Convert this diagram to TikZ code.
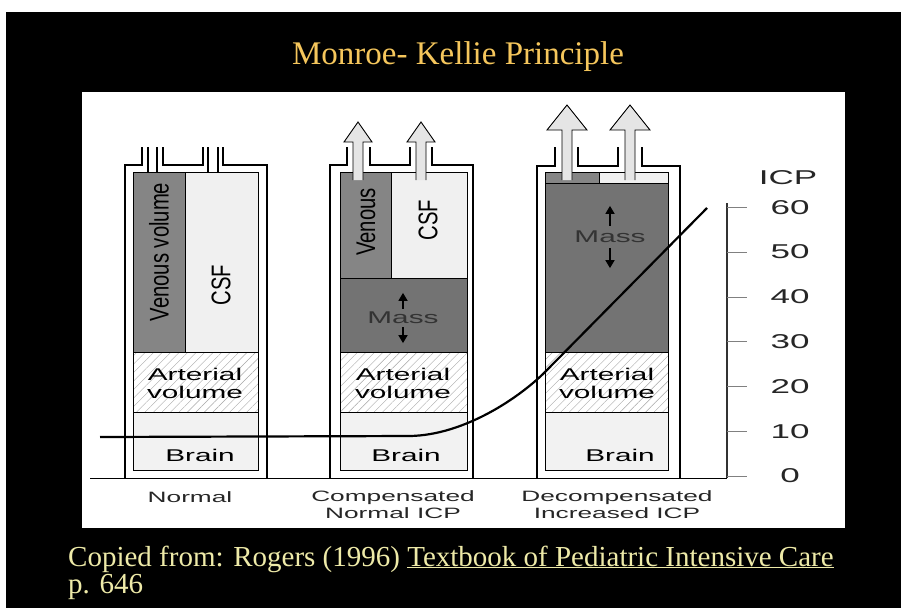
\documentclass[tikz,border=0pt]{standalone}
\usepackage{fontspec}
\setmainfont{Liberation Serif}
\newfontfamily\widesans[FakeStretch=1.75]{Liberation Sans}
\newfontfamily\narrowsans[FakeStretch=0.75]{Liberation Sans}
\usetikzlibrary{arrows.meta,patterns.meta}
\definecolor{titlegold}{HTML}{F5C65C}
\definecolor{citeyellow}{HTML}{EEEAA8}
\tikzset{
    wall/.style = {
        draw,
        line width=1.3pt
    },
    venous/.style = {
        draw,
        fill=black!48,
        line width=0.7pt
    },
    csf/.style = {
        draw,
        fill=gray!12,
        line width=0.7pt
    },
    mass/.style = {
        draw,
        fill=black!55,
        line width=0.7pt
    },
    arterial/.style = {
        draw,
        pattern={Lines[angle=45,distance=6pt,line width=0.4pt]},
        pattern color=gray!70,
        line width=0.7pt
    },
    brain/.style = {
        draw,
        fill=gray!10,
        line width=0.7pt
    },
    vent/.style = {
        draw,
        fill=gray!20,
        line width=0.9pt,
        line join=miter
    },
    lbl/.style = {
        font=\widesans\fontsize{17}{18}\selectfont,
        align=center,
        inner sep=0pt
    },
    vlbl/.style = {
        font=\narrowsans\fontsize{27}{28}\selectfont,
        rotate=90,
        inner sep=0pt
    },
    under/.style = {
        font=\widesans\fontsize{15}{17}\selectfont,
        align=center,
        text=black!85,
        inner sep=0pt
    },
    icpnum/.style = {
        font=\widesans\fontsize{20}{22}\selectfont,
        text=black!85,
        inner sep=0pt
    },
    heading/.style = {
        font=\fontsize{33}{36}\selectfont,
        text=titlegold
    },
    cite/.style = {
        font=\fontsize{29}{30}\selectfont,
        text=citeyellow,
        inner sep=0pt
    },
    >={Triangle[width=9pt,length=8pt]},
}

\begin{document}
\begin{tikzpicture}[x=1pt, y=-1pt]
    \useasboundingbox (0,0) rectangle (901,608);
    \path[fill=black] (6,12) rectangle (901,608);
    \path[fill=white] (82,92) rectangle (845,528);

    \node[heading] (ttl) at (458,57) {Monroe- Kellie Principle};

    % normal
    \path[venous] (133,172) rectangle (185,352);
    \path[csf] (185,172) rectangle (258,352);
    \path[arterial] (133,352) rectangle (258,412);
    \path[brain] (133,412) rectangle (258,470);
    \path[wall] (142,147) |- (125,165) -- (125,478);
    \path[wall] (163,147) |- (203,165) -- (203,147);
    \path[wall] (223,147) |- (267,165) -- (267,478);
    \path[wall] (148,147) -- (148,172);
    \path[wall] (157,147) -- (157,172);
    \path[wall] (208,147) -- (208,172);
    \path[wall] (218,147) -- (218,172);

    % compensated
    \path[venous] (340,172) rectangle (391,278);
    \path[csf] (391,172) rectangle (467,278);
    \path[mass] (340,278) rectangle (467,352);
    \path[arterial] (340,352) rectangle (467,412);
    \path[brain] (340,412) rectangle (467,470);
    \path[wall] (347,147) |- (330,165) -- (330,478);
    \path[wall] (370,147) |- (410,165) -- (410,147);
    \path[wall] (432,147) |- (473,165) -- (473,478);

    % decompensated
    \path[venous] (545,172) rectangle (599,183);
    \path[csf] (599,172) rectangle (668,183);
    \path[mass] (545,183) rectangle (668,352);
    \path[arterial] (545,352) rectangle (668,412);
    \path[brain] (545,412) rectangle (668,470);
    \path[wall] (555,147) |- (537,166) -- (537,478);
    \path[wall] (578,147) |- (618,166) -- (618,147);
    \path[wall] (642,147) |- (680,166) -- (680,478);

    \foreach \cx/\tip/\hb/\hw in {358/122/142/14, 421/122/142/14,
        567/105/130/20, 630/105/130/20}
        \path[vent] (\cx-5,180) -- (\cx-5,\hb) -- (\cx-\hw,\hb) --
        (\cx,\tip) -- (\cx+\hw,\hb) -- (\cx+5,\hb) -- (\cx+5,180);

    \node[vlbl] (ven1) at (159,252) {Venous volume};
    \node[vlbl] (csf1) at (221,285) {CSF};
    \node[lbl] (art1) at (195,383) {Arterial\\volume};
    \node[lbl] (brn1) at (200,455) {Brain};

    \node[vlbl] (ven2) at (366,222) {Venous};
    \node[vlbl] (csf2) at (428,220) {CSF};
    \node[lbl, text=black!80] (mas2) at (403,318) {Mass};
    \node[lbl] (art2) at (403,383) {Arterial\\volume};
    \node[lbl] (brn2) at (406,455) {Brain};

    \node[lbl, text=black!80] (mas3) at (610,237) {Mass};
    \node[lbl] (art3) at (607,383) {Arterial\\volume};
    \node[lbl] (brn3) at (620,455) {Brain};

    \path[draw, ->, line width=1.6pt] (mas2.north) ++(0,-3) -- ++(0,-16);
    \path[draw, ->, line width=1.6pt] (mas2.south) ++(0,3) -- ++(0,16);
    \path[draw, ->, line width=1.6pt] (mas3.north) ++(0,-5) -- ++(0,-20);
    \path[draw, ->, line width=1.6pt] (mas3.south) ++(0,5) -- ++(0,20);

    \node[under] (nrm) at (190,497) {Normal};
    \node[under] (cmp) at (393,505) {Compensated\\Normal ICP};
    \node[under] (dcp) at (617,505) {Decompensated\\Increased ICP};

    % ICP scale
    \coordinate (base0) at (90,478);
    \coordinate (axbot) at (727,478);
    \coordinate (axtop) at (727,203);
    \path[draw, line width=1pt] (base0) -- (axbot);
    \path[draw, line width=1.5pt, draw=black!80] (axbot) -- (axtop);
    \foreach \v in {0,10,...,60} {
        \path[draw, gray, line width=0.5pt] (727,476-4.48*\v) -- (747,476-4.48*\v);
        \node[icpnum] (t\v) at (790,476-4.48*\v) {\v};
    }
    \node[icpnum] (icp) at (788,178) {ICP};

    \coordinate (cva) at (100,437);
    \coordinate (cvb) at (410,436);
    \coordinate (cvc) at (545,372);
    \coordinate (cvd) at (707,208);
    \path[draw, line width=2.2pt] (cva) -- (cvb) .. controls (465,435) and
    (520,397) .. (cvc) -- (cvd);

    \node[cite, anchor=base west] (cite1) at (68,566)
    {Copied from: Rogers (1996)\ \underline{Textbook of Pediatric Intensive Care}};
    \node[cite, anchor=base west] (cite2) at (68,593) {p. 646};
\end{tikzpicture}
\end{document}
